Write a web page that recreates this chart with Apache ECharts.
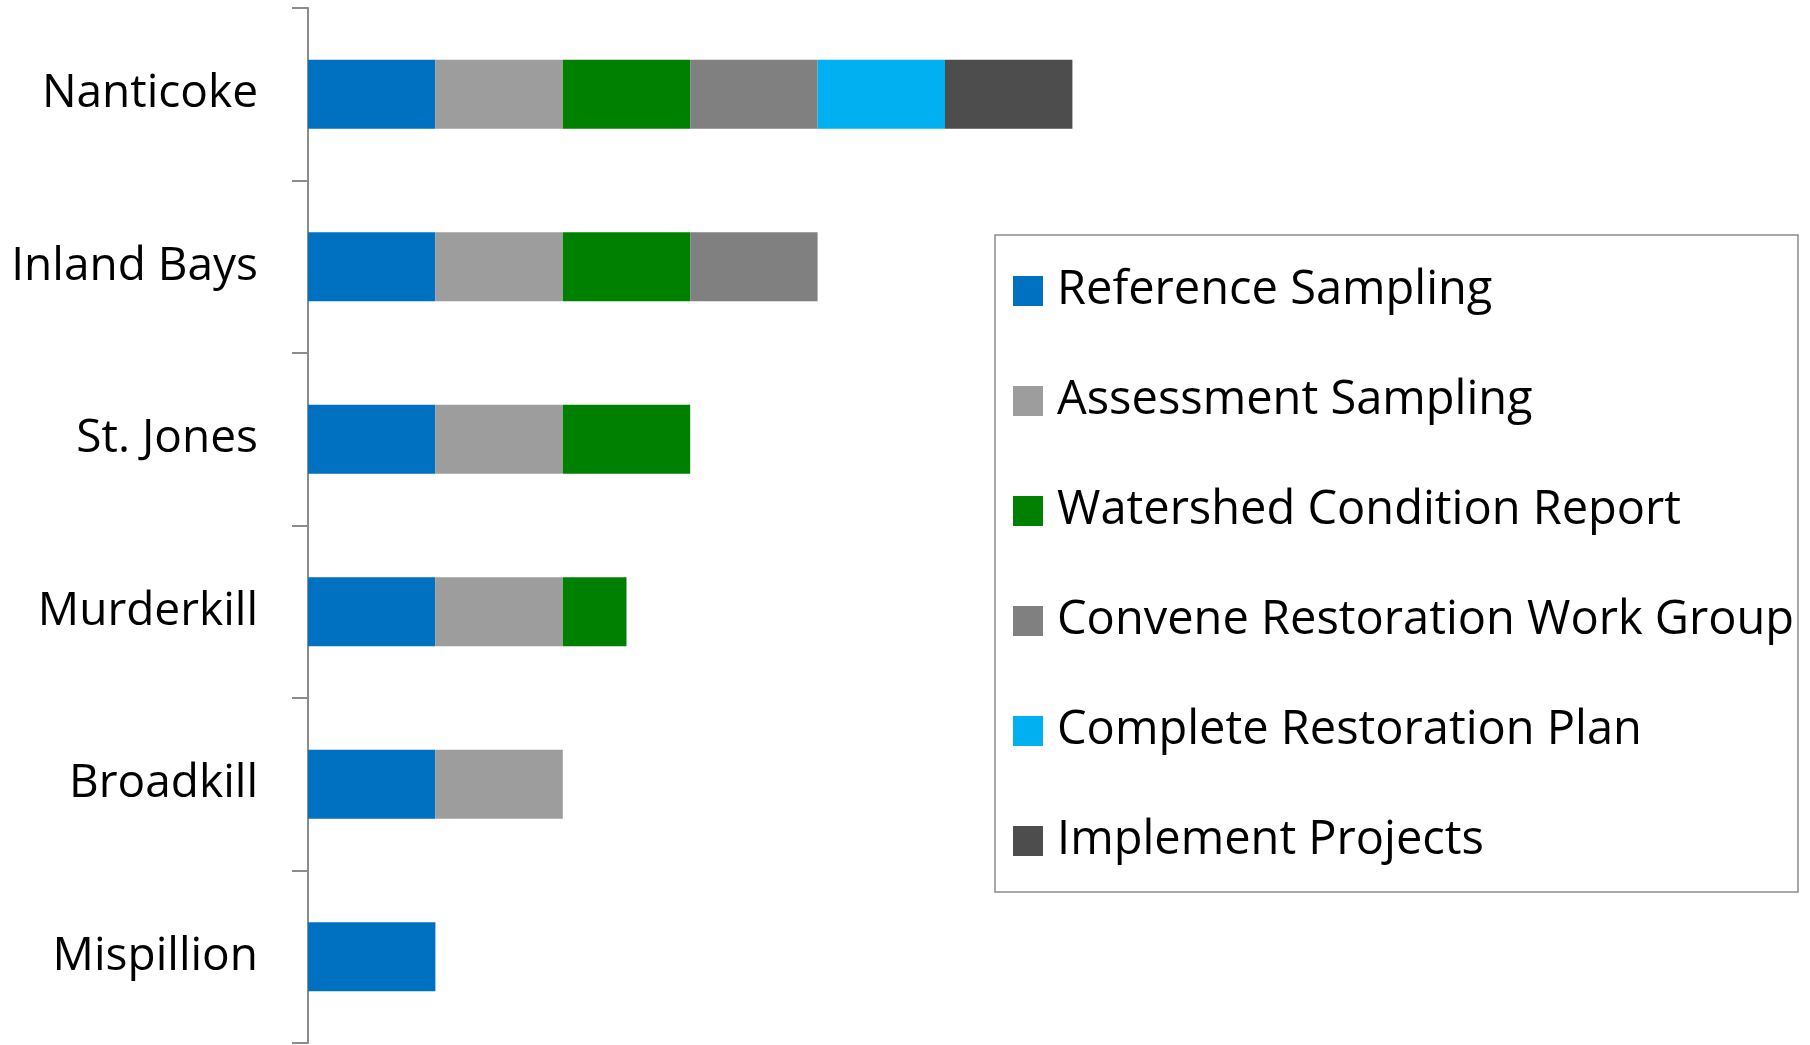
<!DOCTYPE html>
<html>
<head>
<meta charset="utf-8">
<script src="https://cdn.jsdelivr.net/npm/echarts@6/dist/echarts.min.js"></script>
<style>
  html, body { margin: 0; padding: 0; background: #fff; }
  #chart { width: 1810px; height: 1045px; }
</style>
</head>
<body>
<div id="chart"></div>
<script>
// watersheds, top to bottom
const watersheds = ["Nanticoke", "Inland Bays", "St. Jones", "Murderkill", "Broadkill", "Mispillion"];

// progress through each stage (1 = stage complete)
const referenceSampling = [1, 1, 1, 1, 1, 1];
const assessmentSampling = [1, 1, 1, 1, 1, null];
const conditionReport = [1, 1, 1, 0.5, null, null];
const conveneWorkGroup = [1, 1, null, null, null, null];
const restorationPlan = [1, null, null, null, null, null];
const implementProjects = [1, null, null, null, null, null];

const stageNames = [
  "Reference Sampling",
  "Assessment Sampling",
  "Watershed Condition Report",
  "Convene Restoration Work Group",
  "Complete Restoration Plan",
  "Implement Projects",
];
const stageData = [
  referenceSampling,
  assessmentSampling,
  conditionReport,
  conveneWorkGroup,
  restorationPlan,
  implementProjects,
];
const stageColors = ["#0070C0", "#9D9D9D", "#008000", "#808080", "#00B0F0", "#4D4D4D"];

const fontFamily = "'Open Sans', 'Noto Sans', sans-serif";

const chart = echarts.init(document.getElementById("chart"));

chart.setOption({
  animation: false,
  grid: { left: 308, top: 8, right: 228, bottom: 2 },
  xAxis: {
    type: "value",
    min: 0,
    max: 10,
    show: false,
  },
  yAxis: {
    type: "category",
    data: watersheds,
    inverse: true,
    axisLine: { show: true, lineStyle: { color: "#8c8c8c", width: 2 } },
    axisTick: { show: true, length: 16, lineStyle: { color: "#8c8c8c", width: 2 } },
    axisLabel: {
      margin: 50,
      color: "#000",
      fontSize: 46,
      fontFamily: fontFamily,
      padding: [12, 0, 0, 0],
    },
    splitLine: { show: false },
  },
  legend: {
    orient: "vertical",
    left: 1013,
    top: 266,
    padding: 0,
    itemWidth: 30,
    itemHeight: 30,
    itemGap: 60,
    icon: "rect",
    data: stageNames,
    textStyle: {
      color: "#000",
      fontSize: 47,
      fontFamily: fontFamily,
      lineHeight: 50,
      padding: [0, 0, 0, 9],
    },
  },
  graphic: [
    {
      type: "rect",
      shape: { x: 995, y: 235, width: 803, height: 657 },
      style: { fill: "none", stroke: "#8c8c8c", lineWidth: 1.5 },
      silent: true,
    },
  ],
  series: stageNames.map((name, i) => ({
    name: name,
    type: "bar",
    stack: "stage",
    barWidth: "40%",
    data: stageData[i],
    itemStyle: { color: stageColors[i] },
  })),
});
</script>
</body>
</html>
